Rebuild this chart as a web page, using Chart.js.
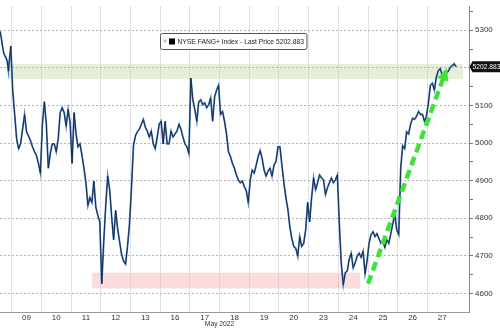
<!DOCTYPE html>
<html>
<head>
<meta charset="utf-8">
<script src="https://cdn.jsdelivr.net/npm/chart.js@4.4.0/dist/chart.umd.min.js"></script>
<style>
    body { margin: 0; background: #fff; }
</style>
</head>
<body>
<canvas id="fangChart" width="500" height="328"></canvas>
<script>
// Trading days shown on the axis (May 2022)
let days = ['09', '10', '11', '12', '13', '16', '17', '18', '19', '20', '23', '24', '25', '26', '27'];

// Last part of the 06 May session, cut by the left edge
let may06Close = [5297, 5279, 5258, 5240, 5232, 5227, 5217, 5191, 5227, 5258];

// Intraday prices, one list per trading day
let prices = [
    [5141, 5076, 5011, 4985, 4998, 5037, 5076, 5030, 5019, 5006, 4990, 4977, 4967, 4946, 4920],
    [5050, 5110, 5050, 4933, 4972, 4998, 4998, 4977, 5011, 5081, 5094, 5081, 5045, 5089, 5055],
    [4946, 5081, 5024, 4990, 4998, 4967, 4933, 4894, 4834, 4855, 4842, 4899, 4829, 4808, 4790],
    [4626, 4738, 4834, 4912, 4876, 4803, 4743, 4821, 4772, 4738, 4704, 4686, 4678, 4725, 4785],
    [4881, 4993, 5019, 5030, 5037, 5050, 5063, 5042, 5032, 5016, 5032, 4998, 4985, 5016, 5050],
    [5058, 4998, 5058, 4998, 4998, 5032, 5016, 5024, 5032, 5050, 5037, 5016, 4998, 4990, 4972],
    [5173, 5115, 5089, 5058, 5110, 5115, 5102, 5107, 5094, 5102, 5120, 5058, 5123, 5141, 5154],
    [5076, 5084, 5058, 5024, 4977, 4964, 4946, 4933, 4915, 4902, 4894, 4899, 4884, 4873, 4842],
    [4902, 4928, 4920, 4941, 4964, 4980, 4959, 4928, 4912, 4925, 4933, 4912, 4941, 4951, 4990],
    [4990, 4941, 4894, 4855, 4824, 4777, 4746, 4725, 4720, 4699, 4751, 4725, 4733, 4769, 4842],
    [4790, 4855, 4907, 4876, 4894, 4915, 4907, 4902, 4863, 4881, 4894, 4907, 4894, 4902, 4915],
    [4785, 4678, 4623, 4655, 4660, 4691, 4707, 4668, 4681, 4699, 4707, 4696, 4712, 4652, 4686],
    [4733, 4756, 4764, 4751, 4759, 4746, 4733, 4738, 4722, 4743, 4733, 4759, 4785, 4811, 4769],
    [4756, 4933, 4993, 4985, 5030, 5024, 5050, 5066, 5063, 5071, 5084, 5076, 5076, 5058, 5071],
    [5107, 5154, 5159, 5141, 5175, 5193, 5198, 5180, 5175, 5185, 5191, 5201, 5206, 5211, 5202.883]
];

let yTicks = [4600, 4700, 4800, 4900, 5000, 5100, 5200, 5300];
let lastPrice = 5202.883;
let legendText = 'NYSE FANG+ Index - Last Price 5202.883';

// Shaded zones (price range, day range) and the green trend arrow
let greenZone = [5170, 5210];
let greenZoneDays = [-0.12, 15.2];
let redZone = [4613, 4655];
let redZoneDays = [2.7, 11.73];
let trendStart = [12.0, 4626];
let trendEnd = [14.62, 5191];

let fontFamily = "'Liberation Sans', Arial, sans-serif";
Chart.defaults.font.family = fontFamily;
Chart.defaults.font.size = 8;
Chart.defaults.color = '#333';

// Build the line points: each day's samples spread evenly across its slot
let pricePoints = [];
for (let i = 0; i < may06Close.length; i++) {
    pricePoints.push({ x: -0.39 + i * 0.36 / (may06Close.length - 1), y: may06Close[i] });
}
for (let d = 0; d < prices.length; d++) {
    for (let i = 0; i < prices[d].length; i++) {
        pricePoints.push({ x: d + (i + 0.5) / prices[d].length, y: prices[d][i] });
    }
}

// condensed looking text (the original uses a narrow font)
let squeeze = 0.84;
function narrowText(ctx, text, x, y) {
    ctx.save();
    ctx.translate(x, y);
    ctx.scale(squeeze, 1);
    ctx.fillText(text, 0, 0);
    ctx.restore();
}

let overlay = {
    id: 'overlay',
    beforeDraw: function(chart) {
        let ctx = chart.ctx, x = chart.scales.x, y = chart.scales.y, a = chart.chartArea;
        ctx.save();
        ctx.beginPath();
        ctx.rect(a.left, a.top, a.right - a.left, a.bottom - a.top);
        ctx.clip();
        ctx.fillStyle = '#e5eed8';
        let gx1 = x.getPixelForValue(greenZoneDays[0]), gx2 = x.getPixelForValue(greenZoneDays[1]);
        let gy1 = y.getPixelForValue(greenZone[1]), gy2 = y.getPixelForValue(greenZone[0]);
        ctx.fillRect(gx1, gy1, gx2 - gx1, gy2 - gy1);
        ctx.fillStyle = '#fbdddd';
        let rx1 = x.getPixelForValue(redZoneDays[0]), rx2 = x.getPixelForValue(redZoneDays[1]);
        let ry1 = y.getPixelForValue(redZone[1]), ry2 = y.getPixelForValue(redZone[0]);
        ctx.fillRect(rx1, ry1, rx2 - rx1, ry2 - ry1);
        ctx.restore();
    },
    afterDatasetsDraw: function(chart) {
        // arrow head on the trend line
        let ctx = chart.ctx, x = chart.scales.x, y = chart.scales.y;
        let sx = x.getPixelForValue(trendStart[0]), sy = y.getPixelForValue(trendStart[1]);
        let tx = x.getPixelForValue(trendEnd[0]), ty = y.getPixelForValue(trendEnd[1]);
        let ang = Math.atan2(ty - sy, tx - sx);
        let c = Math.cos(ang), s = Math.sin(ang);
        ctx.save();
        ctx.fillStyle = '#3ee23a';
        ctx.beginPath();
        ctx.moveTo(tx + c * 3, ty + s * 3);
        ctx.lineTo(tx - c * 9 - s * 6, ty - s * 9 + c * 6);
        ctx.lineTo(tx - c * 9 + s * 6, ty - s * 9 - c * 6);
        ctx.closePath();
        ctx.fill();
        ctx.restore();
    },
    afterDraw: function(chart) {
        let ctx = chart.ctx, x = chart.scales.x, y = chart.scales.y, a = chart.chartArea;
        ctx.save();
        ctx.font = '8px ' + fontFamily;
        ctx.textBaseline = 'middle';
        ctx.textAlign = 'left';

        // legend box
        let tw = ctx.measureText(legendText).width * squeeze;
        let lx = 160.5, ly = 33.5;
        ctx.fillStyle = '#fff';
        ctx.strokeStyle = '#555';
        ctx.lineWidth = 1;
        ctx.beginPath();
        ctx.roundRect(lx, ly, 17 + tw + 3, 16, 2);
        ctx.fill();
        ctx.stroke();
        ctx.fillStyle = '#c8c8c8';
        ctx.fillRect(lx + 3, ly + 6, 3, 3);
        ctx.fillStyle = '#000';
        ctx.fillRect(lx + 8.5, ly + 5, 6, 6);
        ctx.fillStyle = '#222';
        narrowText(ctx, legendText, lx + 17, ly + 8.5);

        // last price tag on the axis
        let py = y.getPixelForValue(lastPrice);
        ctx.fillStyle = '#111';
        ctx.beginPath();
        ctx.moveTo(a.right + 0.5, py);
        ctx.lineTo(a.right + 3.5, py - 5.5);
        ctx.lineTo(500, py - 5.5);
        ctx.lineTo(500, py + 5.5);
        ctx.lineTo(a.right + 3.5, py + 5.5);
        ctx.closePath();
        ctx.fill();
        ctx.fillStyle = '#fff';
        narrowText(ctx, lastPrice.toFixed(3), a.right + 3.5, py + 0.5);

        // month label under the day ticks
        ctx.fillStyle = '#333';
        let mw = ctx.measureText('May 2022').width * squeeze;
        narrowText(ctx, 'May 2022', x.getPixelForValue(7) - mw / 2, 323.5);
        ctx.restore();
    }
};

let ctx = document.getElementById('fangChart').getContext('2d');
let fangChart = new Chart(ctx, {
    type: 'line',
    data: {
        datasets: [{
            label: 'Trend',
            data: [{ x: trendStart[0], y: trendStart[1] }, { x: trendEnd[0], y: trendEnd[1] }],
            borderColor: '#3ee23a',
            borderWidth: 4.5,
            borderDash: [9, 5],
            pointRadius: 0,
            order: 0
        }, {
            label: 'NYSE FANG+ Index',
            data: pricePoints,
            borderColor: '#0e1a2e',
            borderWidth: 0.8,
            pointRadius: 0,
            tension: 0,
            order: 1
        }, {
            label: 'NYSE FANG+ Index (shade)',
            data: pricePoints,
            borderColor: '#4a7fc4',
            borderWidth: 1.8,
            pointRadius: 0,
            tension: 0,
            order: 2
        }]
    },
    options: {
        responsive: false,
        animation: false,
        devicePixelRatio: 1,
        layout: { padding: 0 },
        plugins: {
            legend: { display: false },
            tooltip: { enabled: false }
        },
        scales: {
            x: {
                type: 'linear',
                min: -0.394,
                max: 15.4,
                afterBuildTicks: function(scale) {
                    let t = [];
                    for (let i = 0; i < days.length; i++) {
                        t.push({ value: i });
                        t.push({ value: i + 0.5 });
                    }
                    scale.ticks = t;
                },
                afterFit: function(scale) { scale.height = 16; },
                grid: {
                    color: function(c) {
                        return c.tick && c.tick.value % 1 === 0 ? '#c4c4c4' : 'rgba(0,0,0,0)';
                    },
                    drawTicks: false
                },
                border: { display: true, color: '#999', dash: [1, 1] },
                ticks: {
                    autoSkip: false,
                    maxRotation: 0,
                    padding: 1,
                    callback: function(value) {
                        return value % 1 === 0.5 ? days[Math.floor(value)] : '';
                    }
                }
            },
            y: {
                position: 'right',
                min: 4550.5,
                max: 5362.5,
                afterBuildTicks: function(scale) {
                    let t = [];
                    yTicks.forEach(function(v) {
                        t.push({ value: v });
                        t.push({ value: v + 50 });
                    });
                    scale.ticks = t;
                },
                afterFit: function(scale) { scale.width = 31; },
                grid: {
                    color: function(c) {
                        return c.tick && c.tick.value % 100 === 0 ? '#b5b5b5' : 'rgba(0,0,0,0)';
                    },
                    tickColor: '#777',
                    tickLength: 4
                },
                border: { display: true, color: '#888', dash: [2, 2] },
                ticks: {
                    padding: 2,
                    callback: function(value) {
                        return value % 100 === 0 ? String(value) : '';
                    }
                }
            }
        }
    },
    plugins: [overlay]
});
</script>
</body>
</html>
